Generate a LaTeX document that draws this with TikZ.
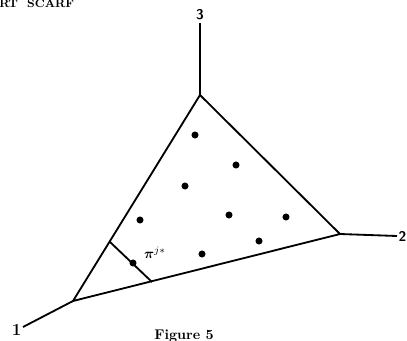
\documentclass[tikz,border=0pt]{standalone}
\usepackage{amsmath}
\usepackage{amssymb}
\usepackage{tikz}
\usetikzlibrary{positioning}
\tikzset{
  edge/.style={line width=1.3pt, color=black},
  axisline/.style={line width=1.3pt, color=black},
  pt/.style={circle, fill=black, inner sep=0pt, minimum size=5pt},
  vlabel/.style={font=\sffamily\bfseries\normalsize, inner sep=1pt},
  caption/.style={font=\bfseries\normalsize, inner sep=0pt}
}
\begin{document}
\begin{tikzpicture}[x=0.025cm, y=-0.025cm]
  \useasboundingbox (0,0) rectangle (407,341);

  % Header
  \node[caption, font=\bfseries\footnotesize, anchor=north west] (hdr) at (-1,-1) {RT\ \ SCARF};

  % Simplex vertices
  \coordinate (v1) at (73,301);
  \coordinate (v2) at (340,234);
  \coordinate (v3) at (200,95);

  % Axis ends
  \coordinate (a1) at (23,327);
  \coordinate (a2) at (397,236);
  \coordinate (a3) at (200,23);

  \node[vlabel, font=\bfseries\large, left=0pt of a1, yshift=-2pt] (l1) {1};
  \node[vlabel, right=0pt of a2] (l2) {2};
  \node[vlabel, above=1pt of a3] (l3) {3};

  % Triangle and axes
  \draw[edge] (v1) -- (v2) -- (v3) -- cycle;
  \draw[axisline] (v1) -- (a1);
  \draw[axisline] (v2) -- (a2);
  \draw[axisline] (v3) -- (a3);

  % Points
  \foreach \x/\y [count=\i] in {195/135, 236/165, 185/186, 140/220, 229/215,
                                286/217, 259/241, 202/254, 133/263}
    \node[pt] (d\i) at (\x,\y) {};

  % Cut through pi^{j*}
  \coordinate (p) at (110,242);
  \coordinate (q) at (152,282);
  \draw[edge] (p) -- (q);
  \node[font=\normalsize, inner sep=0pt] (pilab) at (155,253) {$\boldsymbol{\pi}^{j*}$};

  % Caption
  \node[caption] (fig) at (184,336) {Figure 5};
\end{tikzpicture}
\end{document}
